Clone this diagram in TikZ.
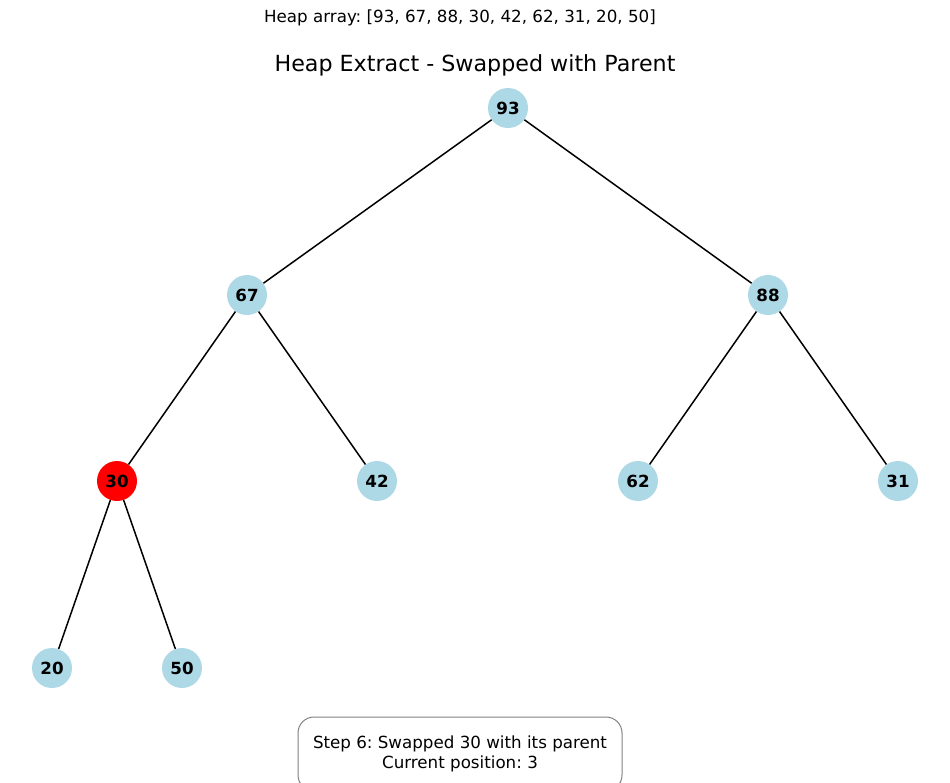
\documentclass[tikz,border=0pt]{standalone}
\usepackage{fontspec}
\setmainfont{DejaVu Sans}
\frenchspacing
\definecolor{lblue}{HTML}{ADD8E6}
\definecolor{boxgray}{HTML}{808080}
\begin{document}
\begin{tikzpicture}[x=1pt,y=1pt,
  heapnode/.style={circle,fill=lblue,minimum size=40pt,inner sep=0pt,font=\fontsize{16.7}{18}\selectfont\bfseries},
  hotnode/.style={heapnode,fill=red},
  edge/.style={draw=black,line width=1.5pt}]
\useasboundingbox (0,0) rectangle (950,-782);
\node[font=\fontsize{16.7}{20}\selectfont] (arr) at (460,-18) {Heap array: [93, 67, 88, 30, 42, 62, 31, 20, 50]};
\node[font=\fontsize{22.2}{26}\selectfont] (title) at (475,-65) {Heap Extract - Swapped with Parent};
\node[heapnode] (n93) at (508,-108) {93};
\node[heapnode] (n67) at (247,-295) {67};
\node[heapnode] (n88) at (768,-295) {88};
\node[hotnode] (n30) at (117,-481) {30};
\node[heapnode] (n42) at (377,-481) {42};
\node[heapnode] (n62) at (638,-481) {62};
\node[heapnode] (n31) at (898,-481) {31};
\node[heapnode] (n20) at (52,-668) {20};
\node[heapnode] (n50) at (182,-668) {50};
\draw[edge] (n93) -- (n67);
\draw[edge] (n93) -- (n88);
\draw[edge] (n67) -- (n30);
\draw[edge] (n67) -- (n42);
\draw[edge] (n88) -- (n62);
\draw[edge] (n88) -- (n31);
\draw[edge] (n30) -- (n20);
\draw[edge] (n30) -- (n50);
\begin{scope}
\clip (0,0) rectangle (950,-782);
\node[draw=boxgray,line width=1pt,rounded corners=16pt,minimum width=324pt,minimum height=74pt,align=center,font=\fontsize{16.7}{20}\selectfont] (info) at (460,-754) {Step 6: Swapped 30 with its parent\\Current position: 3};
\end{scope}
\end{tikzpicture}
\end{document}
